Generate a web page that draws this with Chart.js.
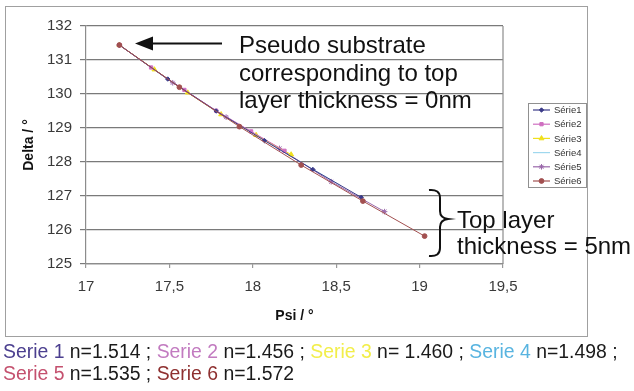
<!DOCTYPE html>
<html>
<head>
<meta charset="utf-8">
<script src="https://cdn.jsdelivr.net/npm/chart.js@4.4.1/dist/chart.umd.min.js"></script>
<style>
  html, body { margin: 0; padding: 0; background: #fff; }
  #wrap { position: relative; width: 634px; height: 391px; overflow: hidden; }
  #graph { position: absolute; left: 0; top: 0; }
  #note { position: absolute; left: 3px; top: 340px; font: 19.4px "Liberation Sans", Arial, sans-serif; line-height: 22px; color: #1a1a1a; white-space: nowrap; }
</style>
</head>
<body>
<div id="wrap">
  <canvas id="graph" width="634" height="391"></canvas>
  <div id="note">
    <span style="color:#4b3f8f">Serie 1</span> n=1.514 ; <span style="color:#c27bc0">Serie 2</span> n=1.456 ; <span style="color:#f2ee4a">Serie 3</span> n= 1.460 ; <span style="color:#58b4e0">Serie 4</span> n=1.498 ;<br>
    <span style="color:#c4506e">Serie 5</span> n=1.535 ; <span style="color:#8e3030">Serie 6</span> n=1.572
  </div>
</div>
<script>
// Psi / Delta pairs for each refractive index, top layer 0..5 nm
const psi1 = [17.20, 17.49, 17.78, 18.07, 18.36, 18.65];
const delta1 = [131.44, 130.44, 129.50, 128.63, 127.78, 126.96];
const psi2 = [17.20, 17.39, 17.59, 17.78, 17.99, 18.19];
const delta2 = [131.44, 130.78, 130.12, 129.51, 128.90, 128.33];
const psi3 = [17.20, 17.41, 17.61, 17.81, 18.02, 18.23];
const delta3 = [131.44, 130.72, 130.04, 129.40, 128.79, 128.22];
const psi4 = [17.20, 17.47, 17.73, 18.00, 18.27, 18.53];
const delta4 = [131.44, 130.50, 129.66, 128.86, 128.05, 127.30];
const psi5 = [17.20, 17.52, 17.84, 18.16, 18.47, 18.79];
const delta5 = [131.44, 130.33, 129.32, 128.40, 127.42, 126.54];
const psi6 = [17.20, 17.56, 17.92, 18.29, 18.66, 19.03];
const delta6 = [131.44, 130.20, 129.04, 127.91, 126.85, 125.82];

const seriesNames = ["Série1", "Série2", "Série3", "Série4", "Série5", "Série6"];
const xTicks = [17, 17.5, 18, 18.5, 19, 19.5];
const yTicks = [125, 126, 127, 128, 129, 130, 131, 132];

const FONT = '"Liberation Sans", Arial, sans-serif';

const colors = ["#3a3a88", "#cf6fc0", "#f0e01c", "#9fd8ee", "#9a68aa", "#a25050"];
const markers = ["rectRot", "rect", "triangle", "circle", "star", "circle"];
const radii = [2.2, 2.3, 2.8, 0, 2.8, 2.4];
// series 6 line sits on top, then the rest
const drawOrder = [2, 3, 4, 6, 5, 1];

const pairs = [[psi1, delta1], [psi2, delta2], [psi3, delta3], [psi4, delta4], [psi5, delta5], [psi6, delta6]];

const datasets = pairs.map(([xs, ys], i) => ({
    label: seriesNames[i],
    data: xs.map((x, k) => ({ x, y: ys[k] })),
    showLine: true,
    order: drawOrder[i],
    borderColor: colors[i],
    backgroundColor: colors[i],
    borderWidth: 1,
    pointStyle: markers[i],
    pointRadius: radii[i],
    pointBorderWidth: 1,
    pointBorderColor: colors[i],
    pointBackgroundColor: colors[i],
}));

function drawText(ctx, lines, x, baselines, size) {
    ctx.save();
    ctx.fillStyle = "#111";
    ctx.font = size + "px " + FONT;
    ctx.textAlign = "left";
    ctx.textBaseline = "alphabetic";
    lines.forEach((t, i) => ctx.fillText(t, x, baselines[i]));
    ctx.restore();
}

const extras = {
    id: "extras",
    beforeDraw(chart) {
        const ctx = chart.ctx;
        ctx.save();
        // outer chart frame
        ctx.strokeStyle = "#a0a0a0";
        ctx.lineWidth = 1;
        ctx.strokeRect(5.5, 6.5, 582, 330);
        ctx.restore();
    },
    beforeDatasetsDraw(chart) {
        const { ctx, chartArea: a } = chart;
        ctx.save();
        ctx.strokeStyle = "#8c8c8c";
        ctx.lineWidth = 1.2;
        ctx.beginPath();
        ctx.moveTo(a.right, a.top);
        ctx.lineTo(a.right, a.bottom);
        ctx.stroke();
        ctx.restore();
    },
    afterDraw(chart) {
        const ctx = chart.ctx;

        // arrow towards the pseudo substrate point
        ctx.save();
        ctx.strokeStyle = "#111";
        ctx.fillStyle = "#111";
        ctx.lineWidth = 2;
        ctx.beginPath();
        ctx.moveTo(222, 43.5);
        ctx.lineTo(148, 43.5);
        ctx.stroke();
        ctx.beginPath();
        ctx.moveTo(135, 43.5);
        ctx.lineTo(153, 36.5);
        ctx.lineTo(153, 50.5);
        ctx.closePath();
        ctx.fill();
        ctx.restore();

        drawText(ctx, ["Pseudo substrate", "corresponding to top", "layer thickness = 0nm"], 239, [53, 81, 108], 24);

        // curly brace
        ctx.save();
        ctx.strokeStyle = "#111";
        ctx.lineWidth = 2;
        ctx.beginPath();
        ctx.moveTo(429, 190);
        ctx.quadraticCurveTo(440, 189, 440, 198);
        ctx.lineTo(440, 211);
        ctx.quadraticCurveTo(440, 218, 448, 219);
        ctx.quadraticCurveTo(440, 220, 440, 227);
        ctx.lineTo(440, 248);
        ctx.quadraticCurveTo(440, 257, 429, 256);
        ctx.stroke();
        ctx.restore();

        drawText(ctx, ["Top layer", "thickness = 5nm"], 457, [228, 254], 24);

        // legend
        const lx = 528, ly = 103, lw = 58, lh = 84;
        ctx.save();
        ctx.fillStyle = "#fff";
        ctx.fillRect(lx, ly, lw, lh);
        ctx.strokeStyle = "#909090";
        ctx.lineWidth = 1;
        ctx.strokeRect(lx + 0.5, ly + 0.5, lw, lh);
        ctx.font = "9.5px " + FONT;
        ctx.textBaseline = "middle";
        chart.data.datasets.forEach((ds, i) => {
            const y = ly + 7 + i * 14.2;
            ctx.strokeStyle = ds.borderColor;
            ctx.lineWidth = 1.2;
            ctx.beginPath();
            ctx.moveTo(lx + 5, y);
            ctx.lineTo(lx + 22, y);
            ctx.stroke();
            if (ds.pointRadius > 0) {
                ctx.fillStyle = ds.pointBackgroundColor;
                ctx.strokeStyle = ds.pointBorderColor;
                ctx.lineWidth = 1;
                Chart.helpers.drawPoint(ctx, { pointStyle: ds.pointStyle, radius: ds.pointRadius, rotation: 0, borderWidth: 1 }, lx + 13.5, y);
            }
            ctx.fillStyle = "#333";
            ctx.fillText(ds.label, lx + 26, y + 0.5);
        });
        ctx.restore();
    }
};

const fmt = v => String(v).replace(".", ",");

new Chart(document.getElementById("graph"), {
    type: "scatter",
    data: { datasets },
    options: {
        responsive: false,
        animation: false,
        layout: { padding: { top: 26, right: 131, bottom: 0, left: 0 } },
        plugins: { legend: { display: false }, tooltip: { enabled: false } },
        scales: {
            x: {
                type: "linear",
                min: xTicks[0],
                max: xTicks[xTicks.length - 1],
                afterBuildTicks: s => { s.ticks = xTicks.map(v => ({ value: v })); },
                afterFit: s => { s.height = 127; },
                grid: { drawOnChartArea: false, tickLength: 4, color: "#999", lineWidth: 1.2 },
                border: { color: "#8c8c8c", width: 1.2 },
                ticks: { callback: v => fmt(v), color: "#3a3a3a", padding: 10, font: { size: 15, family: FONT }, maxRotation: 0 },
                title: { display: true, text: "Psi / °", color: "#111", font: { size: 14, weight: "bold", family: FONT }, padding: { bottom: 66.6, top: 0 } }
            },
            y: {
                type: "linear",
                min: yTicks[0],
                max: yTicks[yTicks.length - 1],
                afterBuildTicks: s => { s.ticks = yTicks.map(v => ({ value: v })); },
                afterFit: s => { s.width = 86; },
                grid: { drawOnChartArea: true, tickLength: 6, color: "#7a7a7a", lineWidth: 1.2 },
                border: { color: "#8c8c8c", width: 1.2 },
                ticks: { color: "#3a3a3a", padding: 8, font: { size: 15, family: FONT } },
                title: { display: true, text: "Delta / °", color: "#111", font: { size: 14, weight: "bold", family: FONT }, padding: { top: 21, bottom: 0 } }
            }
        }
    },
    plugins: [extras]
});
</script>
</body>
</html>
